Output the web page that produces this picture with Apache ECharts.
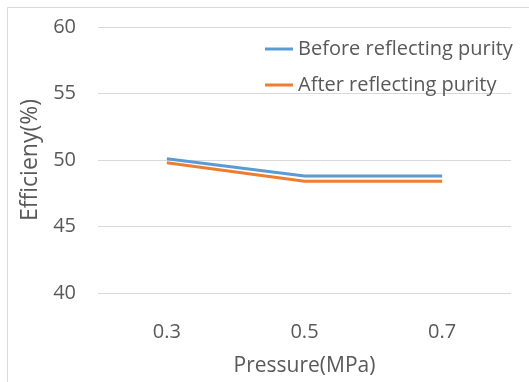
<!DOCTYPE html>
<html>
<head>
<meta charset="utf-8">
<script src="https://cdn.jsdelivr.net/npm/echarts@6/dist/echarts.min.js"></script>
<style>
html,body{margin:0;padding:0;background:#fff;}
#c{width:529px;height:382px;}
</style>
</head>
<body>
<div id="c"></div>
<script>
var categories = ['0.3', '0.5', '0.7'];
var beforeValues = [50.1, 48.8, 48.8];
var afterValues = [49.8, 48.4, 48.4];
var seriesNames = ['Before reflecting purity', 'After reflecting purity'];
var xAxisName = 'Pressure(MPa)';
var yAxisName = 'Efficieny(%)';

var FONT = '"Open Sans", sans-serif';
var TXT = '#595959';

var chart = echarts.init(document.getElementById('c'));
chart.setOption({
  animation: false,
  backgroundColor: '#fff',
  textStyle: { fontFamily: FONT, color: TXT },
  graphic: [{
    type: 'rect',
    shape: { x: 7.5, y: 7.5, width: 700, height: 700 },
    style: { fill: 'none', stroke: '#d9d9d9', lineWidth: 1 },
    silent: true
  }],
  grid: { left: 98, right: 18, top: 27, bottom: 79.5, containLabel: false },
  legend: {
    orient: 'vertical',
    left: 260,
    top: 32,
    itemWidth: 28,
    itemHeight: 3,
    itemGap: 12,
    icon: 'rect',
    textStyle: { fontFamily: FONT, fontSize: 20, color: TXT, lineHeight: 24 },
    data: seriesNames
  },
  xAxis: {
    type: 'category',
    data: categories,
    boundaryGap: true,
    axisLine: { show: false },
    axisTick: { show: false },
    axisLabel: { fontFamily: FONT, fontSize: 20, color: TXT, margin: 29 },
    name: xAxisName,
    nameLocation: 'middle',
    nameGap: 63,
    nameTextStyle: { fontFamily: FONT, fontSize: 21, color: TXT }
  },
  yAxis: {
    type: 'value',
    min: 40,
    max: 60,
    interval: 5,
    axisLine: { show: false },
    axisTick: { show: false },
    splitLine: { lineStyle: { color: '#d9d9d9', width: 1 } },
    axisLabel: { fontFamily: FONT, fontSize: 20, color: TXT, margin: 22 },
    name: yAxisName,
    nameLocation: 'middle',
    nameGap: 47,
    nameTextStyle: { fontFamily: FONT, fontSize: 23, color: TXT }
  },
  series: [
    {
      name: seriesNames[0],
      type: 'line',
      data: beforeValues,
      symbol: 'none',
      lineStyle: { color: '#5B9BD5', width: 3 },
      itemStyle: { color: '#5B9BD5' }
    },
    {
      name: seriesNames[1],
      type: 'line',
      data: afterValues,
      symbol: 'none',
      lineStyle: { color: '#ED7D31', width: 3 },
      itemStyle: { color: '#ED7D31' }
    }
  ]
});
</script>
</body>
</html>
